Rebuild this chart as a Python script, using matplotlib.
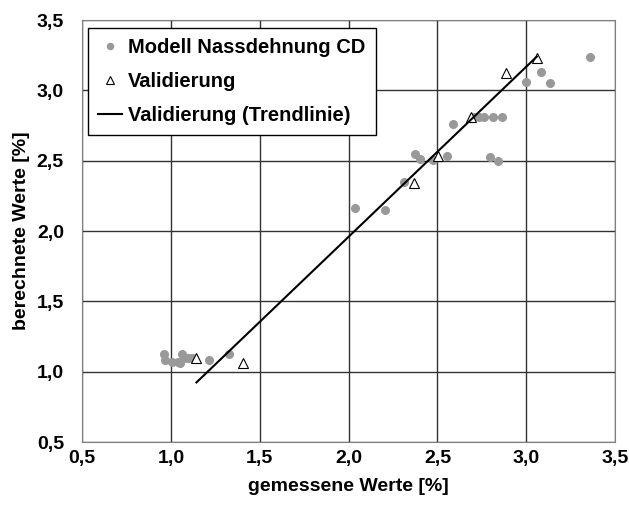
import numpy as np
import matplotlib.pyplot as plt

plt.rcParams['font.family'] = ['Liberation Sans', 'DejaVu Sans']
plt.rcParams['font.weight'] = 'bold'

# Modell Nassdehnung CD (gemessen, berechnet)
modell_x = [0.963, 0.968, 1.008, 1.042, 1.053, 1.065, 1.076, 1.099, 1.121, 1.212, 1.329,
            2.036, 2.205, 2.312, 2.375, 2.404, 2.476, 2.551, 2.589, 2.702, 2.736, 2.763,
            2.811, 2.861, 2.793, 2.842, 2.996, 3.082, 3.136, 3.357]
modell_y = [1.124, 1.083, 1.071, 1.067, 1.060, 1.124, 1.095, 1.100, 1.100, 1.083, 1.124,
            2.167, 2.148, 2.345, 2.548, 2.512, 2.505, 2.536, 2.762, 2.810, 2.814, 2.814,
            2.810, 2.814, 2.529, 2.495, 3.057, 3.131, 3.050, 3.236]

# Validierung
valid_x = [1.144, 1.408, 2.368, 2.504, 2.691, 2.888, 3.059]
valid_y = [1.100, 1.064, 2.338, 2.533, 2.814, 3.124, 3.233]

ticks = [0.5, 1.0, 1.5, 2.0, 2.5, 3.0, 3.5]
tick_labels = ['0,5', '1,0', '1,5', '2,0', '2,5', '3,0', '3,5']

# linear trend line of the validation points
k, d = np.polyfit(valid_x, valid_y, 1)
tx = np.array([min(valid_x), max(valid_x)])
ty = k * tx + d

fig = plt.figure(figsize=(6.29, 5.13), dpi=100)
ax = fig.add_axes([0.1304, 0.1384, 0.8476, 0.8226])

ax.plot(modell_x, modell_y, 'o', color='#999999', markersize=5.5, label='Modell Nassdehnung CD')
ax.plot(valid_x, valid_y, '^', markerfacecolor='white', markeredgecolor='black',
        markeredgewidth=0.8, markersize=7, label='Validierung')
ax.plot(tx, ty, '-', color='black', linewidth=1.5, label='Validierung (Trendlinie)')

ax.set_xlim(0.5, 3.5)
ax.set_ylim(0.5, 3.5)
ax.set_xticks(ticks)
ax.set_yticks(ticks)
ax.set_xticklabels(tick_labels, fontsize=14, fontweight='bold')
ax.set_yticklabels(tick_labels, fontsize=14, fontweight='bold')
ax.tick_params(axis='x', length=0, pad=6)
ax.tick_params(axis='y', length=0, pad=13)
ax.grid(True, color='#333333', linewidth=1)
ax.set_axisbelow(True)
for s in ax.spines.values():
    s.set_color('#808080')

ax.set_xlabel('gemessene Werte [%]', fontsize=14, fontweight='bold', labelpad=8)
ax.set_ylabel('berechnete Werte [%]', fontsize=14, fontweight='bold', labelpad=5)

leg = ax.legend(loc='upper left', bbox_to_anchor=(0.011, 0.981), fontsize=14.5, frameon=True,
                fancybox=False, edgecolor='black', framealpha=1, handlelength=1.2,
                handletextpad=0.3, borderpad=0.5, labelspacing=0.75, markerscale=0.8,
                borderaxespad=0)
leg.get_frame().set_linewidth(1)

fig.savefig('out.png', dpi=100)
